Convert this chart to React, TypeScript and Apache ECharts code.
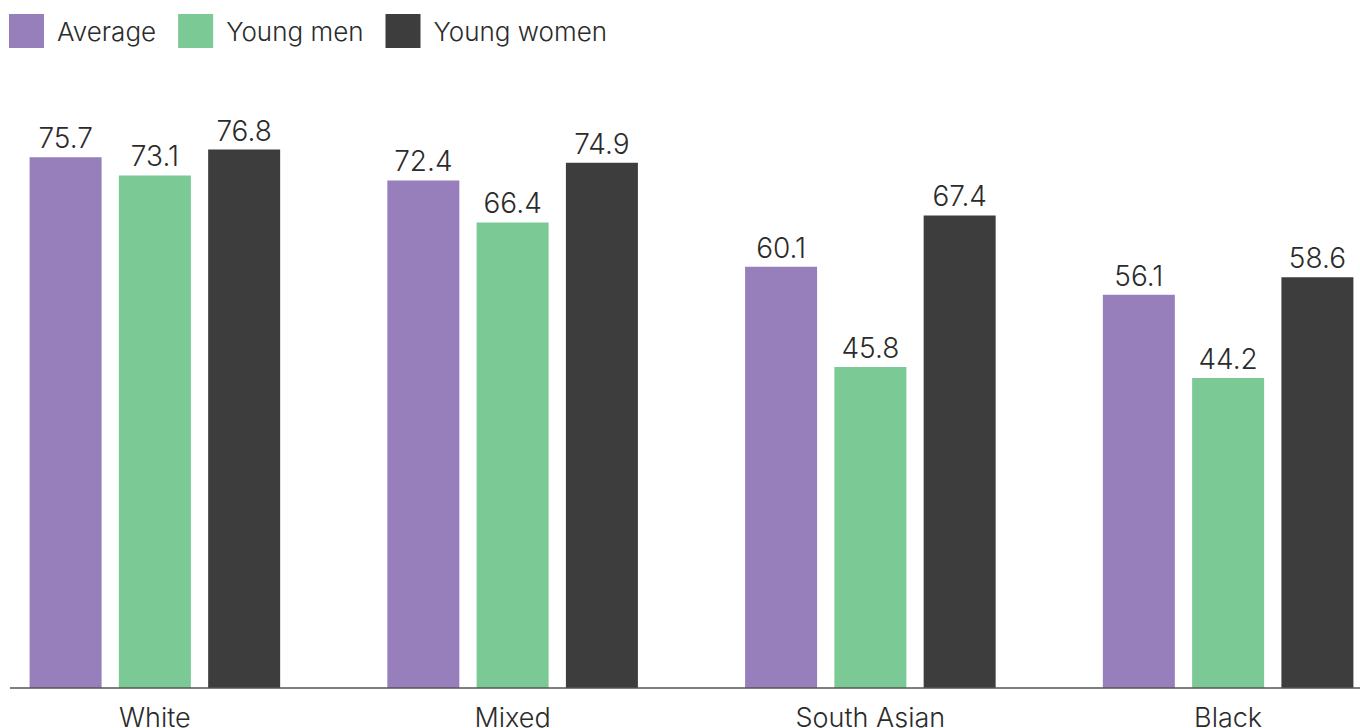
import React, { useEffect, useRef } from "react";
import * as echarts from "echarts";

const categories = ["White", "Mixed", "South Asian", "Black"];
const average = [75.7, 72.4, 60.1, 56.1];
const youngMen = [73.1, 66.4, 45.8, 44.2];
const youngWomen = [76.8, 74.9, 67.4, 58.6];
const seriesNames = ["Average", "Young men", "Young women"];
const colors = ["#967FBA", "#7BC995", "#3D3D3D"];

const FONT = "Inter, 'Open Sans', sans-serif";

export default function App() {
  const ref = useRef<HTMLDivElement>(null);
  useEffect(() => {
    if (!ref.current) return;
    const chart = echarts.init(ref.current, undefined, { renderer: "svg" });
    const data = [average, youngMen, youngWomen];
    chart.setOption({
      animation: false,
      textStyle: { fontFamily: FONT },
      legend: {
        left: 9,
        top: 14,
        padding: 0,
        itemWidth: 35,
        itemHeight: 34,
        itemGap: 22,
        icon: "rect",
        textStyle: { fontSize: 26, fontWeight: 300, color: "#2b2b2b", fontFamily: FONT, padding: [0, 0, 0, 8] },
        data: seriesNames,
      },
      grid: {
        left: -24,
        right: -47,
        top: 57,
        bottom: 40,
        containLabel: false,
        outerBoundsMode: "none",
      },
      xAxis: {
        type: "category",
        data: categories,
        axisLine: { show: false },
        axisTick: { show: false },
        axisLabel: { fontSize: 27, fontWeight: 300, color: "#2b2b2b", margin: 16, fontFamily: FONT },
      },
      yAxis: {
        type: "value",
        min: 0,
        max: 90,
        show: false,
        splitLine: { show: false },
      },
      graphic: [
        {
          type: "line",
          shape: { x1: 10, y1: 688, x2: 1360, y2: 688 },
          style: { stroke: "#555555", lineWidth: 1.5 },
          z: 10,
        },
      ],
      series: data.map((d, i) => ({
        name: seriesNames[i],
        type: "bar",
        data: d,
        barWidth: 72,
        barGap: "24%",
        itemStyle: { color: colors[i] },
        label: {
          show: true,
          position: "top",
          distance: 5,
          fontSize: 28,
          fontWeight: 300,
          color: "#2b2b2b",
          fontFamily: FONT,
          formatter: (p: any) => p.value.toFixed(1),
        },
      })),
    });
    return () => chart.dispose();
  }, []);
  return <div ref={ref} style={{ width: 1360, height: 728, position: "absolute", left: 0, top: 0 }} />;
}
